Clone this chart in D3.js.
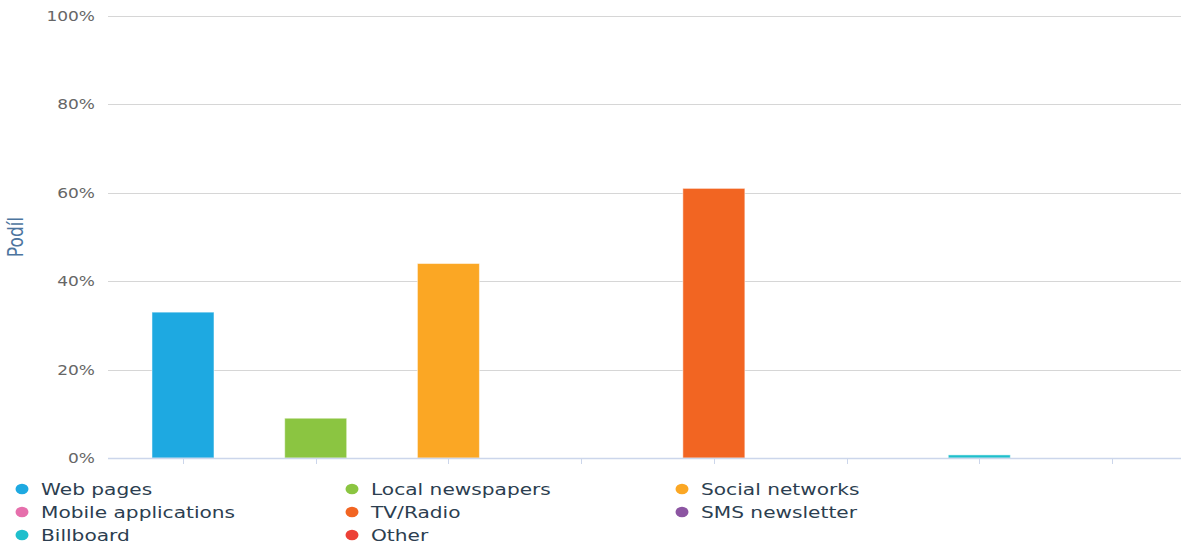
<!DOCTYPE html>
<html>
<head>
<meta charset="utf-8">
<script src="https://cdn.jsdelivr.net/npm/d3@7"></script>
<style>
  html, body { margin: 0; padding: 0; background: #fff; }
  svg { display: block; }
</style>
</head>
<body>
<svg id="chart" width="1181" height="545"></svg>
<script>
// Share of respondents per information channel
const categories = ["Web pages", "Local newspapers", "Social networks", "Mobile applications",
                    "TV/Radio", "SMS newsletter", "Billboard", "Other"];
const shares = [33, 9, 44, 0, 61, 0, 0.7, 0];
const colors = ["#1ea9e1", "#8bc541", "#fba724", "#e66fac", "#f26522", "#8c55a2", "#1fbfcc", "#ec4137"];
const yTicks = [0, 20, 40, 60, 80, 100];
const yTitle = "Podíl";

const W = 1181, H = 545;
const plot = { left: 108, right: 1187, top: 16, bottom: 458 };
const stretch = 1.26; // horizontal text stretch
const font = "'DejaVu Sans', Verdana, sans-serif";

const svg = d3.select("#chart");

const x = d3.scalePoint().domain(categories).range([plot.left, plot.right]).padding(0.565);
const y = d3.scaleLinear().domain([0, 100]).range([plot.bottom, plot.top]);
const barW = 62;

// grid lines
svg.append("g").selectAll("line").data(yTicks.filter(d => d > 0)).join("line")
  .attr("x1", plot.left).attr("x2", W)
  .attr("y1", d => Math.round(y(d)) + 0.5).attr("y2", d => Math.round(y(d)) + 0.5)
  .attr("stroke", "#d6d6d6").attr("stroke-width", 1.2);

// y tick labels
svg.append("g").selectAll("text").data(yTicks).join("text")
  .attr("transform", d => `translate(95,${y(d) + 5}) scale(${stretch},1)`)
  .attr("text-anchor", "end")
  .attr("font-family", font).attr("font-size", 13.5)
  .attr("fill", "#666")
  .text(d => d + "%");

// y axis title
svg.append("text")
  .attr("transform", `translate(23,237) rotate(-90) scale(1,${stretch})`)
  .attr("text-anchor", "middle")
  .attr("font-family", font).attr("font-size", 17)
  .attr("fill", "#4d759e")
  .text(yTitle);

// bars
svg.append("g").selectAll("rect").data(categories).join("rect")
  .attr("x", d => x(d) - barW / 2)
  .attr("width", barW)
  .attr("y", (d, i) => y(shares[i]))
  .attr("height", (d, i) => plot.bottom - y(shares[i]))
  .attr("fill", (d, i) => colors[i])
  .attr("stroke", "#fff").attr("stroke-opacity", 0.5).attr("stroke-width", 1);

// x axis line and ticks
svg.append("line")
  .attr("x1", plot.left).attr("x2", W)
  .attr("y1", plot.bottom + 0.5).attr("y2", plot.bottom + 0.5)
  .attr("stroke", "#ccd6eb").attr("stroke-width", 1.5);
svg.append("g").selectAll("line").data(categories).join("line")
  .attr("x1", d => Math.round(x(d)) + 0.5).attr("x2", d => Math.round(x(d)) + 0.5)
  .attr("y1", plot.bottom).attr("y2", plot.bottom + 6)
  .attr("stroke", "#ccd6eb").attr("stroke-width", 1);

// legend: three columns
const legend = svg.append("g");
const item = legend.selectAll("g").data(categories).join("g")
  .attr("transform", (d, i) => `translate(${22 + (i % 3) * 330},${489 + Math.floor(i / 3) * 23})`);
item.append("ellipse").attr("rx", 6.5).attr("ry", 5.3)
  .attr("fill", (d, i) => colors[i]);
item.append("text")
  .attr("transform", `translate(19,6) scale(${stretch},1)`)
  .attr("font-family", font).attr("font-size", 16)
  .attr("fill", "#2c3e50")
  .text(d => d);
</script>
</body>
</html>
